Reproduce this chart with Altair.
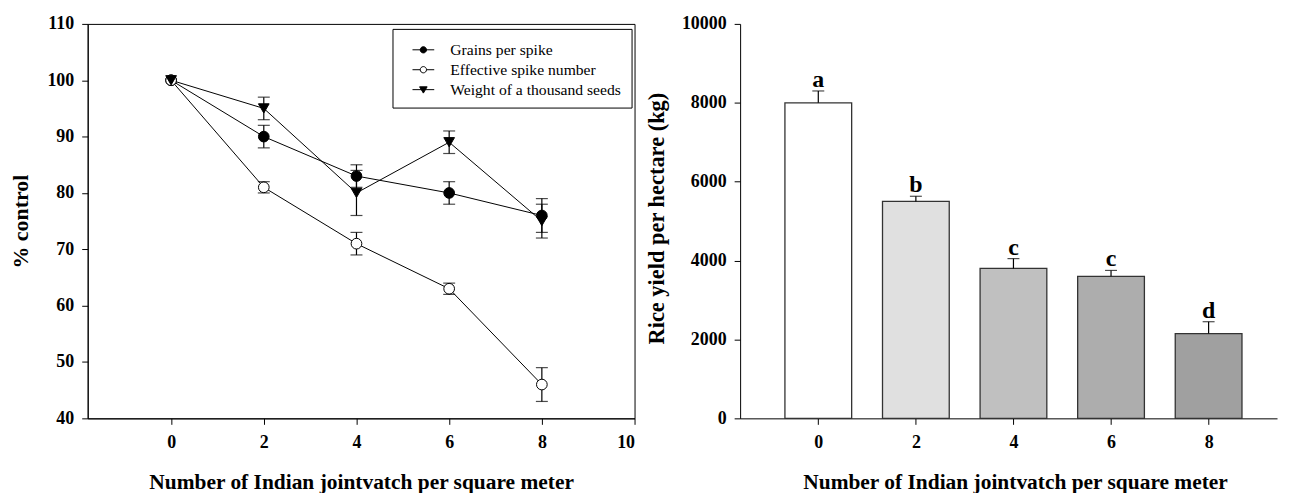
import altair as alt
import pandas as pd

# ---------------- data ----------------
density = [0, 2, 4, 6, 8]
series_names = ["Grains per spike", "Effective spike number", "Weight of a thousand seeds"]
series_shapes = ["circle", "circle", "triangle-down"]
series_fills = ["black", "white", "black"]
grains = [100, 90, 83, 80, 76]
grains_err = [0, 2, 2, 2, 3]
effective = [100, 81, 71, 63, 46]
effective_err = [0, 1, 2, 1, 3]
weight = [100, 95, 80, 89, 75]
weight_err = [0, 2, 4, 2, 3]

yield_kg = [8000, 5500, 3800, 3600, 2150]
yield_err = [300, 130, 250, 150, 300]
letters = ["a", "b", "c", "c", "d"]
bar_fills = ["#ffffff", "#e0e0e0", "#c0c0c0", "#adadad", "#a0a0a0"]

x_title = "Number of Indian jointvatch per square meter"
FONT = "Liberation Serif"

rows = []
for name, vals, errs in zip(series_names, [grains, effective, weight],
                            [grains_err, effective_err, weight_err]):
    for d, v, e in zip(density, vals, errs):
        rows.append({"density": d, "series": name, "value": v,
                     "lo": v - e, "hi": v + e, "err": e})
left_df = pd.DataFrame(rows)

bar_df = pd.DataFrame({
    "density": density,
    "yield": yield_kg,
    "hi": [v + e for v, e in zip(yield_kg, yield_err)],
    "letter": letters,
    "cat": [str(d) for d in density],
})

# ---------------- left panel ----------------
lx = alt.X("density:Q",
           scale=alt.Scale(domain=[-1.8, 10], nice=False, zero=False),
           axis=alt.Axis(values=[0, 2, 4, 6, 8, 10], title=x_title,
                         labelPadding=9, titlePadding=20, titleFontSize=21.5))
ly = alt.Y("value:Q",
           scale=alt.Scale(domain=[40, 110], nice=False, zero=False),
           axis=alt.Axis(values=list(range(40, 111, 10)), title="% control",
                         labelPadding=8, titlePadding=14, titleFontSize=22))

base = alt.Chart(left_df)

lines = base.mark_line(color="black", strokeWidth=1).encode(
    x=lx, y=ly, detail="series:N")

err_df = base.transform_filter("datum.err > 0")
err_rules = err_df.mark_rule(color="black", strokeWidth=1.2).encode(
    x="density:Q", y="lo:Q", y2="hi:Q")
caps = err_df.transform_fold(["lo", "hi"], as_=["end", "pos"]).mark_tick(
    orient="horizontal", size=12, thickness=1.2, color="black").encode(
    x="density:Q", y="pos:Q")

point_layers = []
for name, shp, fc in zip(series_names, series_shapes, series_fills):
    point_layers.append(
        base.transform_filter(alt.datum.series == name).mark_point(
            shape=shp, size=115, fill=fc, filled=True, stroke="black",
            strokeWidth=1, opacity=1).encode(x="density:Q", y="value:Q"))

# legend glyphs: short line with the series marker, in symbol units
legend_paths = [
    "M-1.04,0H1.04M0.3,0A0.3,0.3,0,1,1,-0.3,0A0.3,0.3,0,1,1,0.3,0Z",
    "M-1.04,0H-0.3M0.3,0H1.04M0.3,0A0.3,0.3,0,1,1,-0.3,0A0.3,0.3,0,1,1,0.3,0Z",
    "M-1.04,0H1.04M-0.36,-0.27L0.36,-0.27L0,0.33Z",
]
leg = alt.Legend(title=None, orient="none", legendX=306, legendY=5,
                 labelFont=FONT, labelFontSize=15.7, labelFontWeight="normal",
                 labelColor="black", labelLimit=400, symbolSize=441,
                 symbolOffset=10, labelOffset=16, rowPadding=1,
                 symbolStrokeColor="black", symbolStrokeWidth=1,
                 symbolOpacity=1, padding=10, strokeColor="black")
legend_layer = base.transform_filter("false").mark_point(
    filled=False, size=441, strokeWidth=1, opacity=1).encode(
    x="density:Q", y="value:Q",
    shape=alt.Shape("series:N",
                    scale=alt.Scale(domain=series_names, range=legend_paths),
                    legend=leg),
    fill=alt.Fill("series:N",
                  scale=alt.Scale(domain=series_names, range=series_fills),
                  legend=leg),
    stroke=alt.Stroke("series:N",
                      scale=alt.Scale(domain=series_names,
                                      range=["black", "black", "black"]),
                      legend=leg),
)

left = alt.layer(lines, err_rules, caps, *point_layers, legend_layer).properties(
    width=549, height=396,
    view=alt.ViewBackground(stroke="black", strokeWidth=1))

# ---------------- right panel ----------------
rx = alt.X("density:Q",
           scale=alt.Scale(domain=[-1.5, 9.3], nice=False, zero=False),
           axis=alt.Axis(values=[0, 2, 4, 6, 8], title=x_title,
                         labelPadding=9, titlePadding=20, titleFontSize=21.5,
                         titleX=276))
ry = alt.Y("yield:Q",
           scale=alt.Scale(domain=[0, 10000], nice=False),
           axis=alt.Axis(values=list(range(0, 10001, 2000)), format="d",
                         title="Rice yield per hectare (kg)",
                         labelPadding=8, titlePadding=13, titleFontSize=22.5,
                         titleY=195))

rbase = alt.Chart(bar_df)
bars = rbase.mark_bar(width=67, stroke="#333333", strokeWidth=1.3).encode(
    x=rx, y=ry,
    fill=alt.Fill("cat:N", scale=alt.Scale(domain=[str(d) for d in density],
                                           range=bar_fills), legend=None))
bar_err = rbase.mark_rule(color="black", strokeWidth=1.2).encode(
    x="density:Q", y="yield:Q", y2="hi:Q")
bar_caps = rbase.mark_tick(orient="horizontal", size=12, thickness=1.2,
                           color="black").encode(x="density:Q", y="hi:Q")
bar_text = rbase.mark_text(dy=-4, baseline="alphabetic", font=FONT,
                           fontSize=24, fontWeight="bold", color="black").encode(
    x="density:Q", y="hi:Q", text="letter:N")

right = alt.layer(bars, bar_err, bar_caps, bar_text).properties(
    width=539, height=396)

chart = alt.hconcat(left, right, spacing=106, bounds="flush").resolve_scale(
    fill="independent", shape="independent", stroke="independent"
).resolve_legend(
    fill="independent", shape="independent", stroke="independent"
).properties(
    padding={"left": 1, "top": 5, "right": 5, "bottom": 5}
).configure_axis(
    labelFont=FONT, labelFontWeight="bold", labelFontSize=18, labelColor="black",
    titleFont=FONT, titleFontWeight="bold", titleFontSize=19, titleColor="black",
    domainColor="black", tickColor="black", tickSize=6, grid=False,
).configure_view(stroke=None)

chart.save("out.html", embed_options={"renderer": "svg", "actions": False})
